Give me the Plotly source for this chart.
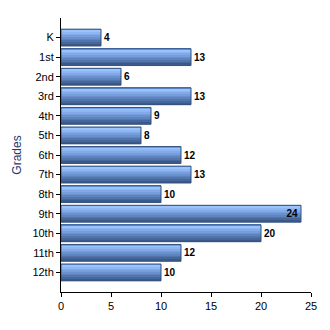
import plotly.graph_objects as go

grades = ["K", "1st", "2nd", "3rd", "4th", "5th", "6th", "7th", "8th", "9th", "10th", "11th", "12th"]
counts = [4, 13, 6, 13, 9, 8, 12, 13, 10, 24, 20, 12, 10]
x_ticks = [0, 5, 10, 15, 20, 25]
axis_title = "Grades"

# gradient stripes (top -> bottom)
stripe_colors = ["#6e9ce6", "#9ac2fb", "#8eb6f2", "#82aae8", "#769ddc", "#6a90ce",
                 "#5e83be", "#5275ac", "#46679a", "#3b5988"]
bar_w = 0.86
n = len(stripe_colors)
sw = bar_w / n

fig = go.Figure()
for i, c in enumerate(stripe_colors):
    fig.add_trace(go.Bar(
        y=grades, x=counts, orientation="h",
        width=sw * 1.02, offset=-bar_w / 2 + i * sw,
        marker=dict(color=c, line=dict(width=0)),
        hoverinfo="skip", showlegend=False,
    ))

positions = ["inside" if v >= 23 else "outside" for v in counts]
fig.add_trace(go.Bar(
    y=grades, x=counts, orientation="h",
    width=bar_w, offset=-bar_w / 2,
    marker=dict(color="rgba(0,0,0,0)", line=dict(color="#34527f", width=1)),
    text=[str(v) for v in counts], textposition=positions,
    insidetextanchor="end",
    textfont=dict(family="Arial, Liberation Sans", size=10, color="#000000", weight="bold"),
    insidetextfont=dict(family="Arial, Liberation Sans", size=10, color="#000000", weight="bold"),
    cliponaxis=False, showlegend=False,
))

fig.update_layout(
    barmode="overlay",
    width=330, height=330,
    margin=dict(l=61, r=19, t=18, b=38),
    paper_bgcolor="white", plot_bgcolor="white",
    font=dict(family="Arial, Liberation Sans", size=11, color="#000000"),
    uniformtext=dict(mode="show", minsize=10),
)
fig.update_xaxes(
    range=[0, 25], tickvals=x_ticks, showgrid=False, zeroline=False,
    showline=True, linecolor="#000000", linewidth=1,
    ticks="outside", ticklen=4, tickcolor="#000000",
    tickfont=dict(size=11, color="#000000"),
)
fig.update_yaxes(
    categoryorder="array", categoryarray=grades,
    range=[13, -1], showgrid=False, zeroline=False,
    showline=True, linecolor="#000000", linewidth=1,
    ticks="outside", ticklen=4, tickcolor="#000000",
    tickfont=dict(size=11, color="#000000"),
    title=dict(text=axis_title, font=dict(size=12, color="#1f3a6e"), standoff=8),
)
fig.write_html("out.html")
